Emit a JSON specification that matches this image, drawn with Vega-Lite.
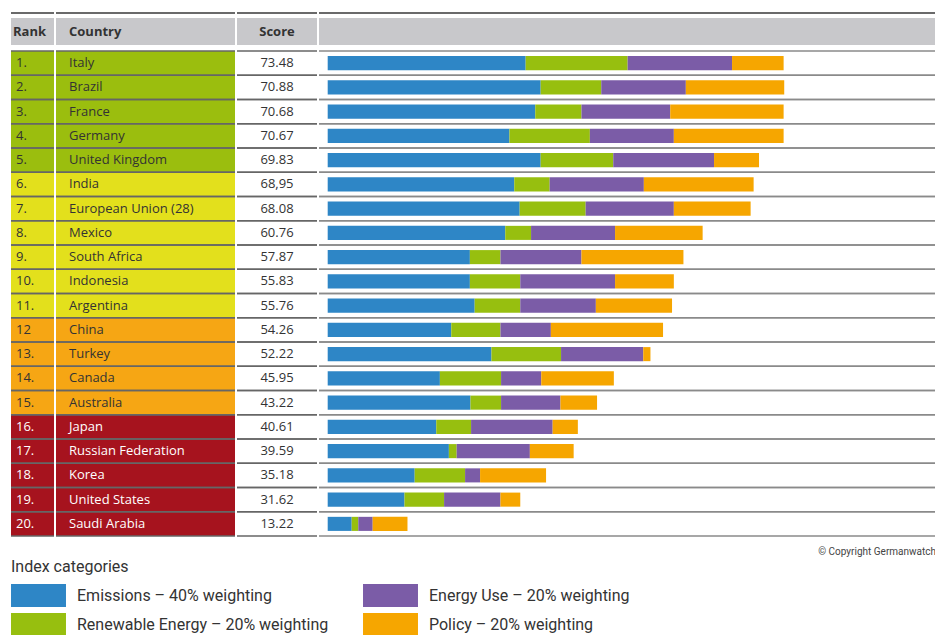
{
  "$schema": "https://vega.github.io/schema/vega-lite/v6.json",
  "padding": {"left": 10, "top": 12, "right": 0, "bottom": 0},
  "background": "white",
  "config": {"view": {"stroke": null}, "font": "Open Sans"},
  "datasets": {
    "t": [
      {"rank": 1, "rl": "1.", "country": "Italy", "score": "73.48", "tier": "g", "a_emissions": 33.0, "b_renewable": 17.0, "c_energy_use": 17.4, "d_policy": 8.6},
      {"rank": 2, "rl": "2.", "country": "Brazil", "score": "70.88", "tier": "g", "a_emissions": 35.5, "b_renewable": 10.1, "c_energy_use": 14.1, "d_policy": 16.4},
      {"rank": 3, "rl": "3.", "country": "France", "score": "70.68", "tier": "g", "a_emissions": 34.6, "b_renewable": 7.7, "c_energy_use": 14.8, "d_policy": 18.9},
      {"rank": 4, "rl": "4.", "country": "Germany", "score": "70.67", "tier": "g", "a_emissions": 30.3, "b_renewable": 13.4, "c_energy_use": 14.0, "d_policy": 18.3},
      {"rank": 5, "rl": "5.", "country": "United Kingdom", "score": "69.83", "tier": "g", "a_emissions": 35.5, "b_renewable": 12.1, "c_energy_use": 16.8, "d_policy": 7.5},
      {"rank": 6, "rl": "6.", "country": "India", "score": "68,95", "tier": "y", "a_emissions": 31.1, "b_renewable": 5.9, "c_energy_use": 15.7, "d_policy": 18.3},
      {"rank": 7, "rl": "7.", "country": "European Union (28)", "score": "68.08", "tier": "y", "a_emissions": 32.0, "b_renewable": 11.0, "c_energy_use": 14.7, "d_policy": 12.8},
      {"rank": 8, "rl": "8.", "country": "Mexico", "score": "60.76", "tier": "y", "a_emissions": 29.6, "b_renewable": 4.3, "c_energy_use": 14.0, "d_policy": 14.6},
      {"rank": 9, "rl": "9.", "country": "South Africa", "score": "57.87", "tier": "y", "a_emissions": 23.7, "b_renewable": 5.1, "c_energy_use": 13.5, "d_policy": 17.0},
      {"rank": 10, "rl": "10.", "country": "Indonesia", "score": "55.83", "tier": "y", "a_emissions": 23.7, "b_renewable": 8.4, "c_energy_use": 15.8, "d_policy": 9.8},
      {"rank": 11, "rl": "11.", "country": "Argentina", "score": "55.76", "tier": "y", "a_emissions": 24.5, "b_renewable": 7.6, "c_energy_use": 12.6, "d_policy": 12.7},
      {"rank": 12, "rl": "12", "country": "China", "score": "54.26", "tier": "o", "a_emissions": 20.6, "b_renewable": 8.2, "c_energy_use": 8.4, "d_policy": 18.7},
      {"rank": 13, "rl": "13.", "country": "Turkey", "score": "52.22", "tier": "o", "a_emissions": 27.3, "b_renewable": 11.6, "c_energy_use": 13.7, "d_policy": 1.2},
      {"rank": 14, "rl": "14.", "country": "Canada", "score": "45.95", "tier": "o", "a_emissions": 18.7, "b_renewable": 10.2, "c_energy_use": 6.7, "d_policy": 12.1},
      {"rank": 15, "rl": "15.", "country": "Australia", "score": "43.22", "tier": "o", "a_emissions": 23.8, "b_renewable": 5.1, "c_energy_use": 9.9, "d_policy": 6.1},
      {"rank": 16, "rl": "16.", "country": "Japan", "score": "40.61", "tier": "r", "a_emissions": 18.1, "b_renewable": 5.8, "c_energy_use": 13.6, "d_policy": 4.2},
      {"rank": 17, "rl": "17.", "country": "Russian Federation", "score": "39.59", "tier": "r", "a_emissions": 20.2, "b_renewable": 1.3, "c_energy_use": 12.2, "d_policy": 7.3},
      {"rank": 18, "rl": "18.", "country": "Korea", "score": "35.18", "tier": "r", "a_emissions": 14.5, "b_renewable": 8.4, "c_energy_use": 2.5, "d_policy": 11.0},
      {"rank": 19, "rl": "19.", "country": "United States", "score": "31.62", "tier": "r", "a_emissions": 12.8, "b_renewable": 6.6, "c_energy_use": 9.4, "d_policy": 3.3},
      {"rank": 20, "rl": "20.", "country": "Saudi Arabia", "score": "13.22", "tier": "r", "a_emissions": 4.0, "b_renewable": 1.1, "c_energy_use": 2.4, "d_policy": 5.8}
    ]
  },
  "spacing": 2,
  "vconcat": [
    {
      "spacing": 2,
      "bounds": "flush",
      "hconcat": [
        {
          "width": 43, "height": 30,
          "data": {"values": [{"h": "Rank"}]},
          "encoding": {"y": {"field": "h", "type": "nominal", "axis": null, "scale": {"paddingInner": 0, "paddingOuter": 0}}},
          "layer": [
            {"mark": {"type": "rect", "height": 27, "yOffset": -1.5, "color": "#c8c8cb"},
             "encoding": {"x": {"datum": 0, "type": "quantitative", "scale": {"domain": [0, 1], "nice": false}, "axis": null}, "x2": {"datum": 1}}},
            {"mark": {"type": "text", "align": "left", "dx": 2, "dy": -1.5, "fontWeight": "bold", "fontSize": 13, "color": "#333"},
             "encoding": {"x": {"datum": 0, "type": "quantitative"}, "text": {"field": "h"}}},
            {"mark": {"type": "rule", "yOffset": -5, "color": "#6a6a6a", "strokeWidth": 2, "x2Offset": 2},
             "encoding": {"y": {"field": "h", "type": "nominal", "bandPosition": 0}}}
          ]
        },
        {
          "width": 179, "height": 30,
          "data": {"values": [{"h": "Country"}]},
          "encoding": {"y": {"field": "h", "type": "nominal", "axis": null, "scale": {"paddingInner": 0, "paddingOuter": 0}}},
          "layer": [
            {"mark": {"type": "rect", "height": 27, "yOffset": -1.5, "color": "#c8c8cb"},
             "encoding": {"x": {"datum": 0, "type": "quantitative", "scale": {"domain": [0, 1], "nice": false}, "axis": null}, "x2": {"datum": 1}}},
            {"mark": {"type": "text", "align": "left", "dx": 13, "dy": -1.5, "fontWeight": "bold", "fontSize": 13, "color": "#333"},
             "encoding": {"x": {"datum": 0, "type": "quantitative"}, "text": {"field": "h"}}},
            {"mark": {"type": "rule", "yOffset": -5, "color": "#6a6a6a", "strokeWidth": 2, "x2Offset": 2},
             "encoding": {"y": {"field": "h", "type": "nominal", "bandPosition": 0}}}
          ]
        },
        {
          "width": 80, "height": 30,
          "data": {"values": [{"h": "Score"}]},
          "encoding": {"y": {"field": "h", "type": "nominal", "axis": null, "scale": {"paddingInner": 0, "paddingOuter": 0}}},
          "layer": [
            {"mark": {"type": "rect", "height": 27, "yOffset": -1.5, "color": "#c8c8cb"},
             "encoding": {"x": {"datum": 0, "type": "quantitative", "scale": {"domain": [0, 1], "nice": false}, "axis": null}, "x2": {"datum": 1}}},
            {"mark": {"type": "text", "dy": -1.5, "fontWeight": "bold", "fontSize": 13, "color": "#333"},
             "encoding": {"text": {"field": "h"}}},
            {"mark": {"type": "rule", "yOffset": -5, "color": "#6a6a6a", "strokeWidth": 2, "x2Offset": 2},
             "encoding": {"y": {"field": "h", "type": "nominal", "bandPosition": 0}}}
          ]
        },
        {
          "width": 617, "height": 30,
          "data": {"values": [{"h": ""}]},
          "encoding": {"y": {"field": "h", "type": "nominal", "axis": null, "scale": {"paddingInner": 0, "paddingOuter": 0}}},
          "layer": [
            {"mark": {"type": "rect", "height": 27, "yOffset": -1.5, "color": "#c8c8cb"},
             "encoding": {"x": {"datum": 0, "type": "quantitative", "scale": {"domain": [0, 1], "nice": false}, "axis": null}, "x2": {"datum": 1}}},
            {"mark": {"type": "rule", "yOffset": -5, "color": "#6a6a6a", "strokeWidth": 2},
             "encoding": {"y": {"field": "h", "type": "nominal", "bandPosition": 0}}}
          ]
        }
      ]
    },
    {
      "spacing": 2,
      "bounds": "flush",
      "hconcat": [
        {
          "width": 43, "height": 485,
          "data": {"name": "t"},
          "encoding": {"y": {"field": "rank", "type": "ordinal", "axis": null, "scale": {"paddingInner": 0, "paddingOuter": 0}}},
          "layer": [
            {"mark": {"type": "rect"},
             "encoding": {
               "x": {"datum": 0, "type": "quantitative", "scale": {"domain": [0, 1], "nice": false}, "axis": null},
               "x2": {"datum": 1},
               "fill": {"field": "tier", "type": "nominal", "legend": null, "scale": {"domain": ["g", "y", "o", "r"], "range": ["#9bbe0e", "#e3e01c", "#f6a614", "#a6131e"]}}
             }},
            {"mark": {"type": "text", "align": "left", "dx": 5, "fontSize": 13},
             "encoding": {
               "x": {"datum": 0, "type": "quantitative"},
               "text": {"field": "rl"},
               "color": {"condition": {"test": "datum.rank > 15", "value": "#ffffff"}, "value": "#333333"}
             }},
            {"mark": {"type": "rule", "color": "#666666", "strokeWidth": 1.5, "x2Offset": 2},
             "encoding": {"y": {"field": "rank", "type": "ordinal", "bandPosition": 0}}},
            {"mark": {"type": "rule", "color": "#666666", "strokeWidth": 1.5, "x2Offset": 2},
             "encoding": {"y": {"field": "rank", "type": "ordinal", "bandPosition": 1}}}
          ]
        },
        {
          "width": 179, "height": 485,
          "data": {"name": "t"},
          "encoding": {"y": {"field": "rank", "type": "ordinal", "axis": null, "scale": {"paddingInner": 0, "paddingOuter": 0}}},
          "layer": [
            {"mark": {"type": "rect"},
             "encoding": {
               "x": {"datum": 0, "type": "quantitative", "scale": {"domain": [0, 1], "nice": false}, "axis": null},
               "x2": {"datum": 1},
               "fill": {"field": "tier", "type": "nominal", "legend": null, "scale": {"domain": ["g", "y", "o", "r"], "range": ["#9bbe0e", "#e3e01c", "#f6a614", "#a6131e"]}}
             }},
            {"mark": {"type": "text", "align": "left", "dx": 13, "fontSize": 13},
             "encoding": {
               "x": {"datum": 0, "type": "quantitative"},
               "text": {"field": "country"},
               "color": {"condition": {"test": "datum.rank > 15", "value": "#ffffff"}, "value": "#333333"}
             }},
            {"mark": {"type": "rule", "color": "#666666", "strokeWidth": 1.5, "x2Offset": 2},
             "encoding": {"y": {"field": "rank", "type": "ordinal", "bandPosition": 0}}},
            {"mark": {"type": "rule", "color": "#666666", "strokeWidth": 1.5, "x2Offset": 2},
             "encoding": {"y": {"field": "rank", "type": "ordinal", "bandPosition": 1}}}
          ]
        },
        {
          "width": 80, "height": 485,
          "data": {"name": "t"},
          "encoding": {"y": {"field": "rank", "type": "ordinal", "axis": null, "scale": {"paddingInner": 0, "paddingOuter": 0}}},
          "layer": [
            {"mark": {"type": "text", "fontSize": 13, "color": "#333333"},
             "encoding": {"text": {"field": "score"}}},
            {"mark": {"type": "rule", "color": "#666666", "strokeWidth": 1.5, "x2Offset": 2},
             "encoding": {"y": {"field": "rank", "type": "ordinal", "bandPosition": 0}}},
            {"mark": {"type": "rule", "color": "#666666", "strokeWidth": 1.5, "x2Offset": 2},
             "encoding": {"y": {"field": "rank", "type": "ordinal", "bandPosition": 1}}}
          ]
        },
        {
          "width": 617, "height": 485,
          "data": {"name": "t"},
          "title": {"text": "© Copyright Germanwatch", "orient": "bottom", "anchor": "end", "frame": "group", "fontSize": 10, "font": "Roboto", "fontWeight": "normal", "color": "#444444", "offset": 10},
          "encoding": {"y": {"field": "rank", "type": "ordinal", "axis": null, "scale": {"paddingInner": 0, "paddingOuter": 0}}},
          "layer": [
            {"transform": [{"fold": ["a_emissions", "b_renewable", "c_energy_use", "d_policy"], "as": ["cat", "v"]}],
             "mark": {"type": "bar", "height": {"band": 0.58}},
             "encoding": {
               "x": {"field": "v", "type": "quantitative", "stack": "zero", "axis": null, "scale": {"domain": [-1.45, 101.4], "nice": false, "zero": false}},
               "color": {"field": "cat", "type": "nominal",
                 "scale": {"domain": ["a_emissions", "b_renewable", "c_energy_use", "d_policy"], "range": ["#2e86c6", "#97bf0f", "#7b5ca7", "#f6a600"]},
                 "legend": {
                   "title": "Index categories", "orient": "none", "legendX": 0, "legendY": 541, "padding": 0,
                   "columns": 2, "columnPadding": 34, "rowPadding": 6,
                   "symbolType": "M-2.39,-1H2.39V1H-2.39Z", "symbolSize": 529, "symbolOffset": 16, "symbolStrokeWidth": 0,
                   "labelOffset": 27, "labelFontSize": 16, "labelFont": "Roboto", "labelColor": "#333333", "labelLimit": 400,
                   "titleFontSize": 16, "titleFont": "Roboto", "titleFontWeight": "normal", "titleColor": "#333333", "titlePadding": 9,
                   "labelExpr": "{'a_emissions': 'Emissions – 40% weighting', 'b_renewable': 'Renewable Energy – 20% weighting', 'c_energy_use': 'Energy Use – 20% weighting', 'd_policy': 'Policy – 20% weighting'}[datum.label]"
                 }},
               "order": {"field": "cat", "type": "ordinal", "sort": "ascending"}
             }},
            {"mark": {"type": "rule", "color": "#8a8a8a", "strokeWidth": 1.5},
             "encoding": {"y": {"field": "rank", "type": "ordinal", "bandPosition": 0}}},
            {"mark": {"type": "rule", "color": "#8a8a8a", "strokeWidth": 1.5},
             "encoding": {"y": {"field": "rank", "type": "ordinal", "bandPosition": 1}}}
          ]
        }
      ]
    }
  ]
}
